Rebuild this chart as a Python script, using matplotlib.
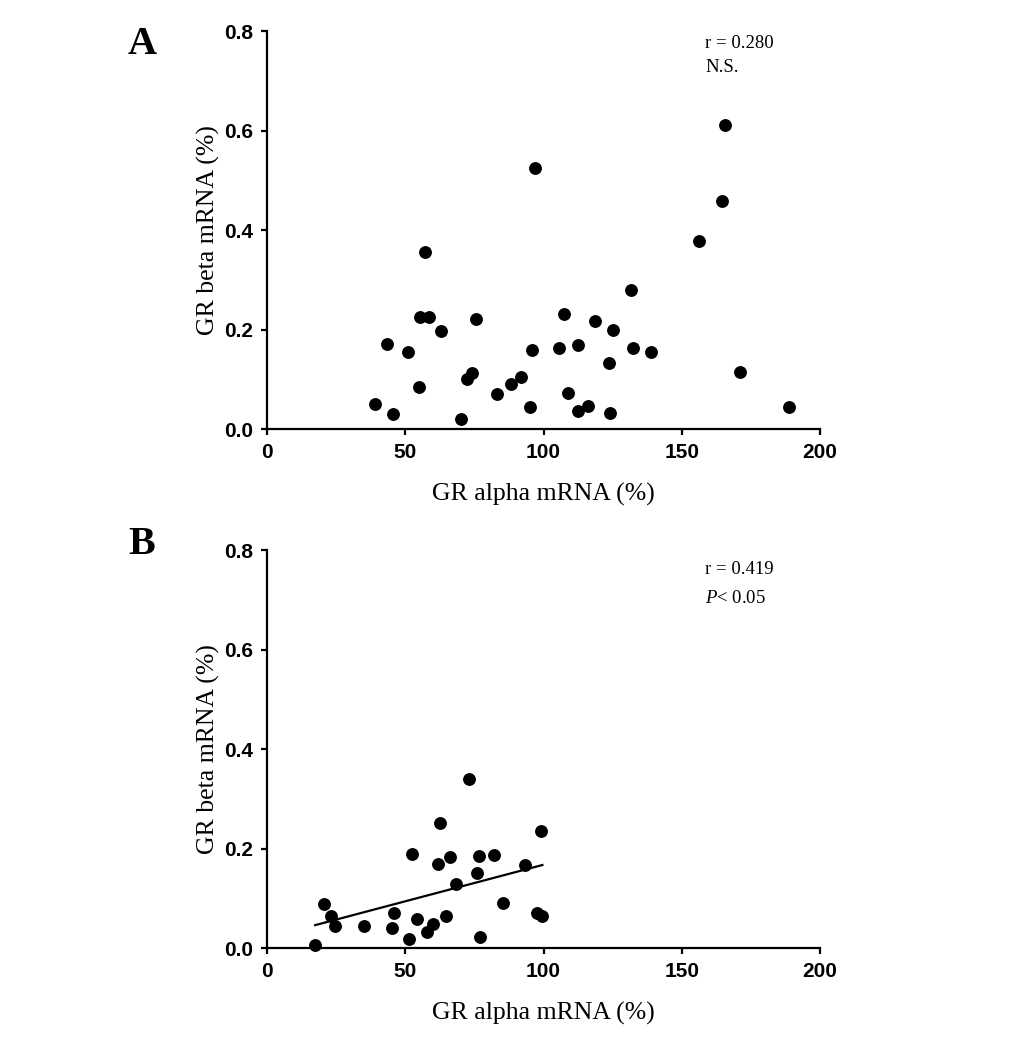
import numpy as np
import matplotlib.pyplot as plt

# Panel A: GR alpha vs GR beta mRNA
alpha_a = [39.1, 43.5, 45.7, 51.0, 54.9, 55.4, 57.3, 58.7, 62.9, 70.0,
           72.2, 74.1, 75.6, 83.3, 88.3, 92.0, 95.2, 95.7, 97.1, 105.5,
           107.5, 108.8, 112.4, 112.6, 116.2, 118.7, 123.6, 124.2, 125.1, 131.5,
           132.3, 138.7, 156.2, 164.4, 165.7, 171.0, 188.9]
beta_a = [0.050, 0.170, 0.030, 0.154, 0.085, 0.226, 0.356, 0.225, 0.196, 0.021,
          0.100, 0.112, 0.222, 0.070, 0.091, 0.105, 0.044, 0.158, 0.525, 0.162,
          0.232, 0.073, 0.168, 0.037, 0.047, 0.217, 0.133, 0.032, 0.199, 0.279,
          0.163, 0.154, 0.378, 0.459, 0.612, 0.115, 0.044]

# Panel B
alpha_b = [17.4, 20.7, 23.1, 24.6, 35.1, 45.1, 46.1, 51.3, 52.3, 54.2,
           57.8, 60.1, 61.9, 62.6, 64.8, 66.2, 68.4, 73.0, 76.1, 76.6,
           76.9, 82.2, 85.3, 93.3, 97.5, 99.2, 99.6]
beta_b = [0.006, 0.089, 0.064, 0.044, 0.044, 0.040, 0.071, 0.019, 0.190, 0.058,
          0.032, 0.048, 0.168, 0.251, 0.064, 0.183, 0.129, 0.339, 0.150, 0.185,
          0.022, 0.186, 0.091, 0.167, 0.070, 0.235, 0.064]

stats_a = ["r = 0.280", "N.S."]
stats_b = ["r = 0.419", r"$\it{P}$< 0.05"]

plt.rcParams['font.family'] = 'Liberation Serif'
plt.rcParams['mathtext.fontset'] = 'custom'
plt.rcParams['mathtext.it'] = 'Liberation Serif:italic'

fig = plt.figure(figsize=(10.33, 10.37), dpi=100)
ax_a = fig.add_axes([0.2585, 0.5863, 0.5353, 0.3838])
ax_b = fig.add_axes([0.2585, 0.0858, 0.5353, 0.3838])


def style(ax):
    ax.set_xlim(0, 200)
    ax.set_ylim(0, 0.8)
    ax.set_xticks([0, 50, 100, 150, 200])
    ax.set_yticks([0.0, 0.2, 0.4, 0.6, 0.8])
    ax.set_yticklabels(["0.0", "0.2", "0.4", "0.6", "0.8"])
    for s in ['top', 'right']:
        ax.spines[s].set_visible(False)
    for s in ['left', 'bottom']:
        ax.spines[s].set_linewidth(1.6)
    ax.tick_params(direction='out', length=4, width=1.6, pad=6)
    for lab in ax.get_xticklabels() + ax.get_yticklabels():
        lab.set_fontfamily('Liberation Sans')
        lab.set_fontweight('bold')
        lab.set_fontsize(15)
    ax.set_xlabel("GR alpha mRNA (%)", fontsize=18.5)
    ax.set_ylabel("GR beta mRNA (%)", fontsize=18.5)
    ax.xaxis.set_label_coords(0.5, -0.136)
    ax.yaxis.set_label_coords(-0.085, 0.5)


ax_a.scatter(alpha_a, beta_a, s=68, color='black', zorder=3, clip_on=False)
ax_b.scatter(alpha_b, beta_b, s=68, color='black', zorder=3, clip_on=False)

# regression line for panel B
k, b = np.polyfit(alpha_b, beta_b, 1)
xs = np.array([min(alpha_b), max(alpha_b)])
ax_b.plot(xs, k * xs + b, color='black', lw=1.6)

style(ax_a)
style(ax_b)

ax_a.text(158.5, 0.774, stats_a[0], fontsize=13.5, va='center')
ax_a.text(158.5, 0.726, stats_a[1], fontsize=13.5, va='center')
ax_b.text(158.5, 0.760, stats_b[0], fontsize=13.5, va='center')
ax_b.text(158.5, 0.703, stats_b[1], fontsize=13.5, va='center')

fig.text(142 / 1033, 1 - 44 / 1037, "A", fontsize=29, fontweight='bold', ha='center', va='center')
fig.text(142 / 1033, 1 - 545 / 1037, "B", fontsize=29, fontweight='bold', ha='center', va='center')

fig.savefig("out.png", dpi=100, facecolor='white')
